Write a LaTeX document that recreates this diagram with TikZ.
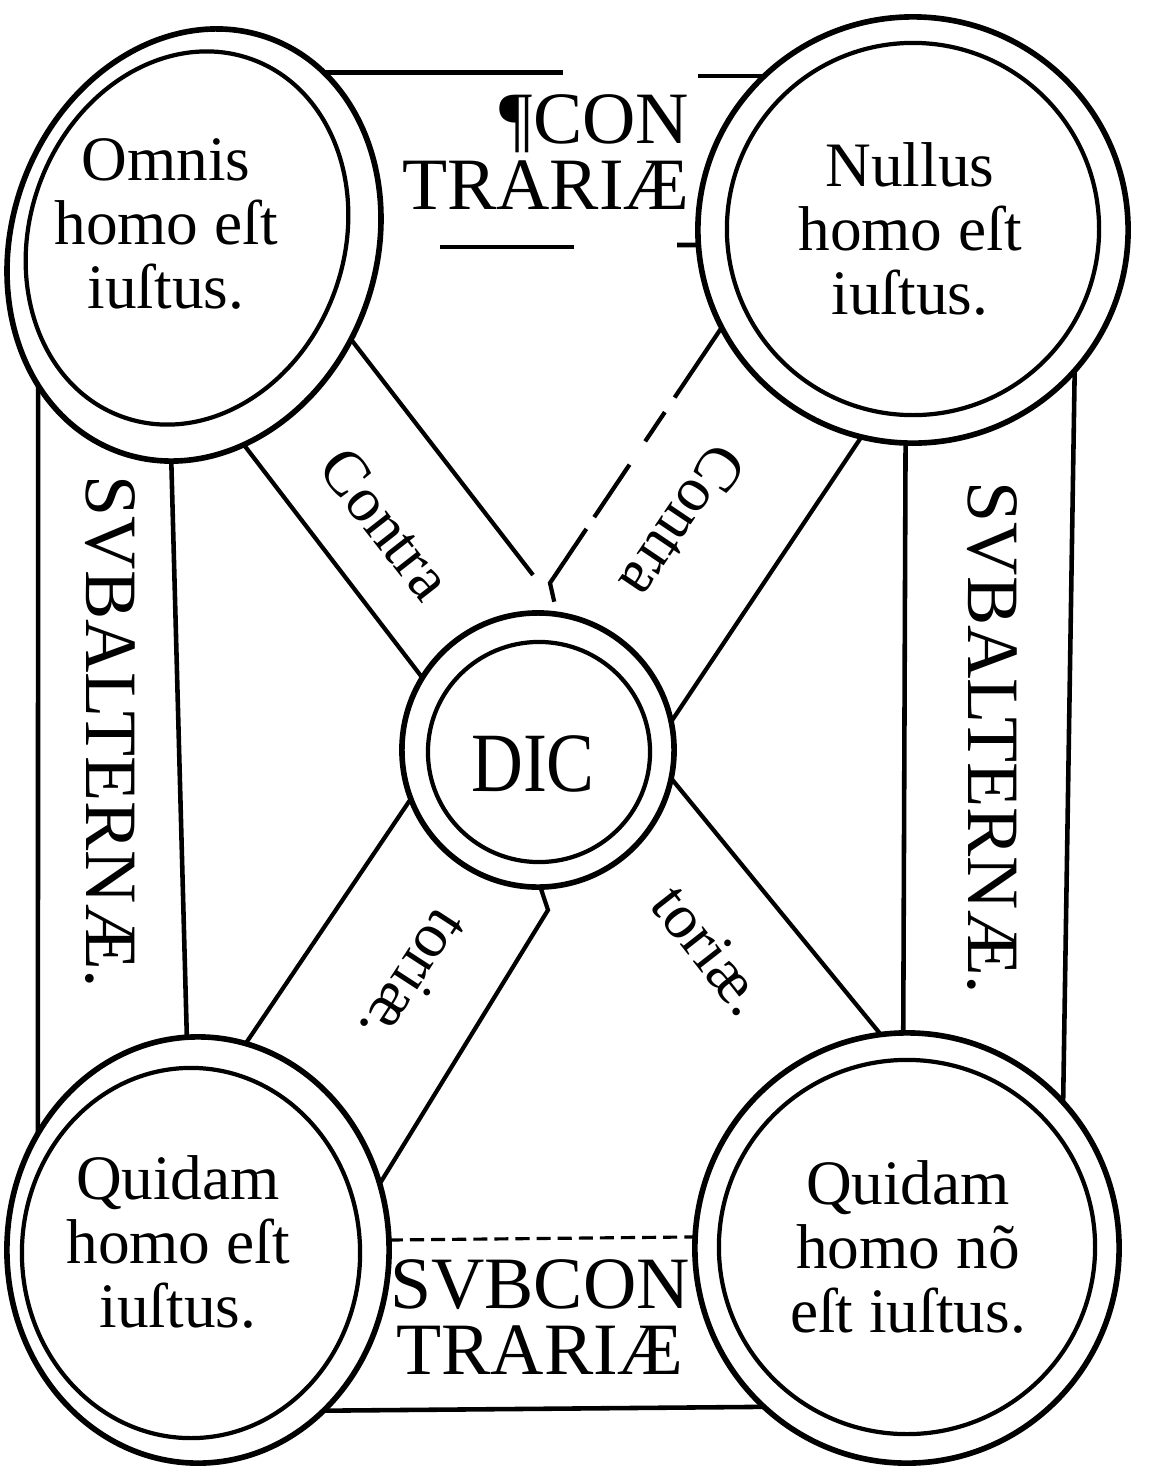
\documentclass[tikz,border=0pt]{standalone}
\usepackage{fontspec}
\setmainfont{Liberation Serif}
\usepackage{graphicx}
\usepackage{tikz}
\usetikzlibrary{shapes.geometric}
\usetikzlibrary{calc}
\tikzstyle{outerring}=[ellipse,draw=black,line width=1.6pt,inner sep=0pt,outer sep=0pt]
\tikzstyle{innerring}=[ellipse,draw=black,line width=1.2pt,inner sep=0pt,outer sep=0pt]
\tikzstyle{frameline} = [draw,line width=1.3pt]
\tikzstyle{bandline} = [draw,line width=1.2pt]
\tikzstyle{worn} = [dash pattern=on 24pt off 5pt on 10pt off 8pt on 18pt off 4pt]
\tikzstyle{ringtext}=[align=center,inner sep=0pt,font=\fontsize{18}{18.3}\selectfont]
\tikzstyle{captext}=[align=center,inner sep=0pt,font=\fontsize{21}{18.6}\selectfont]
\tikzstyle{bandtext}=[inner sep=0pt,font=\fontsize{18}{18}\selectfont]

\begin{document}
\begin{tikzpicture}[x=0.01cm,y=-0.01cm]
    \path[fill=white] (0,0) rectangle (1152,1481);
    \useasboundingbox (0,0) rectangle (1152,1481);

    % Draw the circles: four corners and the middle one
    \node[outerring, minimum width=3.64cm, minimum height=4.40cm, rotate=-20] (omnis) at (194,245) {};
    \node[innerring, minimum width=3.14cm, minimum height=3.80cm, rotate=-20] (omnisin) at (187,238) {};
    \foreach \pos/\name/\ringw/\ringh in {{(913,230)/nullus/4.30cm/4.26cm}, {(198,1250)/quidam/3.82cm/4.26cm}, {(907,1248)/quidamnon/4.24cm/4.30cm}, {(538,750)/dic/2.72cm/2.74cm}}
        \node[outerring, minimum width=\ringw, minimum height=\ringh] (\name) at \pos {};
    \foreach \pos/\name/\ringw/\ringh in {{(913,229)/nullusin/3.72cm/3.72cm}, {(191,1253)/quidamin/3.38cm/3.70cm}, {(907,1247)/quidamnonin/3.76cm/3.74cm}, {(539,752)/dicin/2.22cm/2.20cm}}
        \node[innerring, minimum width=\ringw, minimum height=\ringh] (\name) at \pos {};

    % frame round the square
    \coordinate (topA) at (563,0);
    \coordinate (topB) at (698,0);
    \path[frameline] (omnis.73) -- (omnis.73 -| topA);
    \path[frameline] (nullus.134 -| topB) -- (nullus.134);
    \coordinate (ulA) at (440,247);
    \coordinate (ulB) at (574,247);
    \coordinate (ulC) at (677,245);
    \path[frameline] (ulA) -- (ulB);
    \path[frameline] (ulC) -- (nullus.184);
    \foreach \source/\dest in {omnis.242/quidam.144, omnis.284/quidam.93, nullus.319/quidamnon.43, nullus.268/quidamnon.91, quidam.308/quidamnon.228}
        \path[frameline] (\source) -- (\dest);
    \path[frameline, line width=0.9pt, dash pattern=on 4pt off 2pt] (quidam.3) -- (quidamnon.177);

    % the two crossing bands
    \coordinate (apexL) at (533,575);
    \coordinate (apex) at (550,583);
    \coordinate (kink) at (548,910);
    \path[bandline] (omnis.349) -- (apexL);
    \path[bandline, worn] (nullus.207) -- (apex) -- (dic.82);
    \foreach \source/\dest in {omnis.304/dic.148, nullus.256/dic.12, dic.348/quidamnon.97, dic.201/quidam.77}
        \path[bandline] (\source) -- (\dest);
    \path[bandline] (dic.271) -- (kink) -- (quidam.20);

    % texts
    \node[ringtext] (omnistext) at (166,224) {Omnis\\homo eſt\\iuſtus.};
    \node[ringtext] (nullustext) at (910,229) {Nullus\\homo eſt\\iuſtus.};
    \node[ringtext] (quidamtext) at (178,1242) {Quidam\\homo eſt\\iuſtus.};
    \node[ringtext] (quidamnontext) at (908,1247) {Quidam\\homo nõ\\eſt iuſtus.};
    \node[captext, align=right, anchor=east] (contrariae) at (690,152) {¶CON\\TRARIÆ};
    \node[captext] (subcontrariae) at (540,1317) {SVBCON\\TRARIÆ};
    \node[captext, rotate=-90] (subalternL) at (110,732) {SVBALTERNÆ.};
    \node[captext, rotate=-90] (subalternR) at (992,738) {SVBALTERNÆ.};
    \node[inner sep=0pt, font=\fontsize{24}{24}\selectfont] (dictext) at (533,764) {\scalebox{0.85}[1]{DIC}};
    \node[bandtext, rotate=-52] (contraL) at (386,524) {Contra};
    \node[bandtext, rotate=-124] (contraR) at (683,522) {Contra};
    \node[bandtext, rotate=-123] (toriaeL) at (415,978) {toriæ.};
    \node[bandtext, rotate=-52] (toriaeR) at (710,950) {toriæ.};
\end{tikzpicture}
\end{document}
